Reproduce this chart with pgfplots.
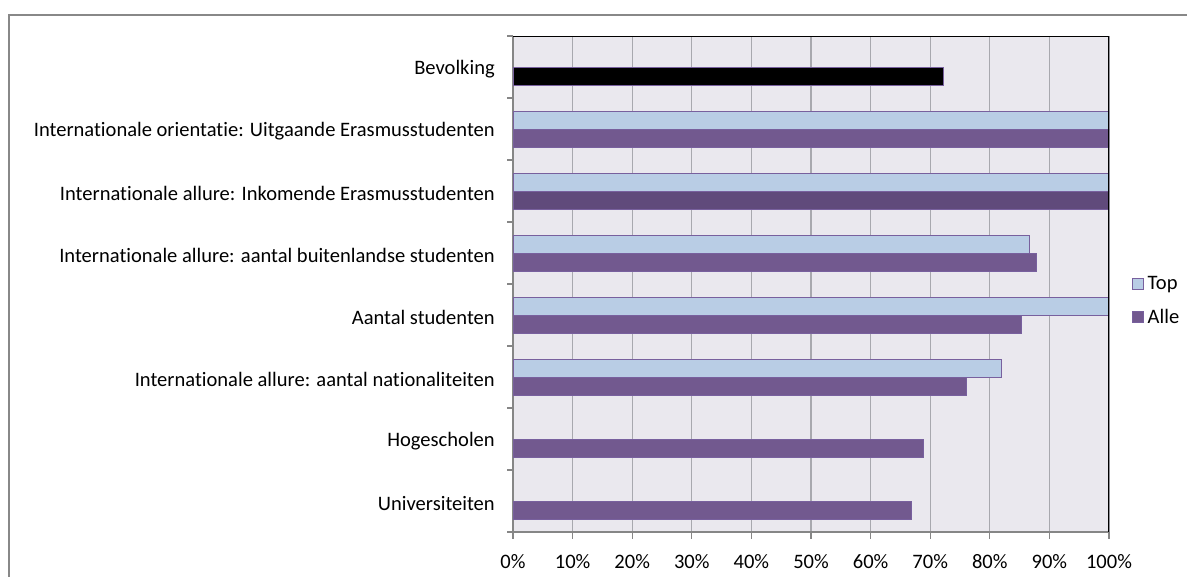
\documentclass[border=0pt]{standalone}
\usepackage{pgfplots}
\pgfplotsset{compat=1.18}
\usepackage{fontspec}
\setmainfont{Carlito}[Ligatures={NoCommon}]
\definecolor{TopFill}{RGB}{185,205,229}
\definecolor{AlleFill}{RGB}{114,89,143}
\definecolor{AlleDark}{RGB}{96,74,123}
\definecolor{BarEdge}{RGB}{120,96,158}
\definecolor{PlotBg}{RGB}{234,232,238}
\definecolor{GridGray}{RGB}{168,168,174}
\definecolor{AxisGray}{RGB}{134,134,134}
\definecolor{FrameGray}{RGB}{136,136,136}
\pgfplotsset{
  boxlegend/.style={legend image code/.code={\draw[##1] (0pt,-4.1pt) rectangle (8.25pt,4.1pt);}},
  hbar/.style={xbar, bar width=13.5pt, draw=BarEdge, line width=0.6pt, boxlegend},
}
\begin{document}
\begin{tikzpicture}
\useasboundingbox (0pt,0pt) rectangle (890.25pt,-432pt);
% outer chart frame (cut off on the right and bottom)
\draw[FrameGray, line width=1.5pt] (6.4pt,-470pt) -- (6.4pt,-11.2pt) -- (920pt,-11.2pt);
\begin{axis}[
  at={(384.75pt,-399pt)}, anchor=south west,
  scale only axis, width=447pt, height=372pt,
  xmin=0, xmax=100, ymin=-0.5, ymax=7.5,
  axis background/.style={fill=PlotBg},
  axis x line*=bottom, axis y line*=left,
  axis line style={AxisGray, line width=0.8pt},
  xtick={0,10,...,100},
  xticklabels={0\%,10\%,20\%,30\%,40\%,50\%,60\%,70\%,80\%,90\%,100\%},
  xmajorgrids, grid style={GridGray, line width=0.8pt},
  ytick={0,...,7},
  yticklabels={Universiteiten, Hogescholen,
    Internationale allure: aantal nationaliteiten, Aantal studenten,
    Internationale allure: aantal buitenlandse studenten,
    Internationale allure: Inkomende Erasmusstudenten,
    Internationale orientatie: Uitgaande Erasmusstudenten, Bevolking},
  minor ytick={-0.5,0.5,...,7.5},
  tick align=outside,
  major tick length=0pt,
  every minor tick/.style={AxisGray, line width=0.8pt},
  minor tick length=4.5pt,
  extra x ticks={0,10,...,100}, extra x tick labels={},
  extra x tick style={major tick length=5pt, grid=none,
    every major tick/.style={AxisGray, line width=0.8pt}},
  tick label style={font=\fontsize{15.4}{18}\selectfont, text=black},
  yticklabel style={anchor=east, inner sep=0pt, xshift=-13.5pt, yshift=-1.5pt},
  xticklabel style={inner sep=0pt, yshift=-16.5pt},
  legend style={draw=none, fill=none, at={(1,0.5)}, anchor=west,
    xshift=17pt, yshift=-12.5pt, font=\fontsize{15.4}{18}\selectfont,
    row sep=13.5pt, inner sep=0pt, text=black,
    nodes={inner xsep=3pt, inner ysep=0pt}},
  legend cell align=left,
]
\addplot[hbar, bar shift=6.75pt, fill=TopFill]
  coordinates {(82.0,2) (100,3) (86.6,4) (100,5) (100,6)};
\addlegendentry{Top}
\addplot[hbar, bar shift=-6.75pt, fill=AlleFill]
  coordinates {(66.8,0) (68.9,1) (76.0,2) (85.3,3) (87.9,4) (100,6)};
\addlegendentry{Alle}
\addplot[hbar, bar shift=-6.75pt, fill=AlleDark, forget plot]
  coordinates {(100,5)};
\addplot[hbar, bar shift=-6.75pt, fill=black, forget plot]
  coordinates {(72.2,7)};
\draw[black, line width=1pt] (rel axis cs:0,1) -- (rel axis cs:1,1) -- (rel axis cs:1,0);
\end{axis}
\end{tikzpicture}
\end{document}
